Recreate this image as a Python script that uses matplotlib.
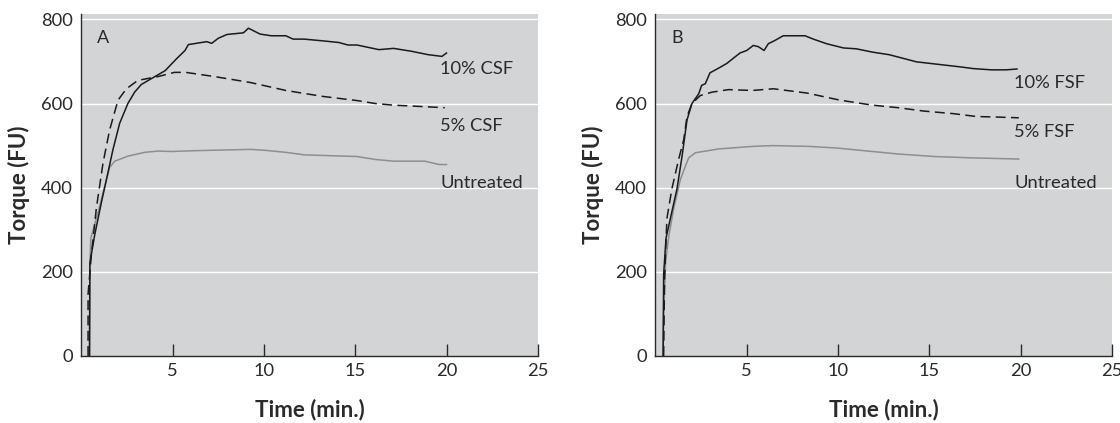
import matplotlib
matplotlib.use("Agg")
import matplotlib.pyplot as plt

plt.rcParams['font.family'] = ['Lato', 'DejaVu Sans']

# Panel A: corn starch fibre
a_10_x = [0.45, 0.47, 0.73, 1.1, 1.46, 1.73, 2.1, 2.55, 2.92, 3.28, 3.83, 4.59, 5.23, 5.68, 5.86,
          6.87, 7.14, 7.5, 7.97, 8.88, 9.15, 9.79, 10.4, 11.2, 11.6, 12.2, 13.2, 14.1, 14.6, 15.1,
          16.3, 17.1, 18.1, 19.0, 19.75, 20.0]
a_10_y = [0, 221, 287, 365, 436, 490, 553, 600, 627, 645, 659, 678, 707, 726, 740,
          747, 743, 755, 764, 768, 779, 765, 761, 761, 753, 753, 749, 745, 739, 739,
          728, 731, 724, 716, 712, 720]

a_5_x = [0.37, 0.37, 0.55, 0.82, 1.19, 1.55, 2.01, 2.47, 3.1, 4.2, 5.1, 5.72, 7.29, 9.25,
         11.2, 13.2, 15.1, 16.1, 17.1, 18.1, 19.9]
a_5_y = [0, 147, 240, 350, 459, 537, 608, 635, 655, 664, 674, 674, 664, 650,
         631, 617, 607, 600, 596, 594, 590]

a_u_x = [0.45, 0.47, 0.52, 0.92, 1.55, 1.83, 2.56, 3.47, 4.2, 4.94, 6.3, 9.25, 10.0, 11.2,
         12.2, 15.1, 16.1, 17.1, 18.8, 19.6, 20.0]
a_u_y = [0, 215, 280, 342, 448, 463, 475, 484, 487, 486, 488, 491, 489, 484,
         478, 474, 467, 463, 463, 455, 455]

# Panel B: fibre from the second source
b_10_x = [0.42, 0.45, 0.58, 0.82, 1.18, 1.46, 1.73, 2.0, 2.37, 2.53, 2.73, 2.99, 3.46, 3.9,
          4.63, 5.0, 5.36, 5.64, 5.95, 6.18, 6.55, 7.0, 8.19, 8.65, 9.38, 10.3, 11.0, 11.9,
          12.8, 14.3, 15.5, 16.7, 17.4, 18.4, 19.2, 19.8]
b_10_y = [0, 194, 280, 327, 397, 475, 561, 600, 623, 643, 647, 673, 684, 695,
          720, 726, 738, 735, 726, 742, 750, 761, 761, 753, 742, 732, 730, 722,
          716, 699, 693, 687, 683, 680, 680, 682]

b_5_x = [0.45, 0.5, 0.63, 0.9, 1.27, 1.55, 1.73, 2.0, 2.46, 3.1, 4.0, 5.3, 6.46, 8.28,
         10.1, 11.9, 13.3, 14.7, 16.3, 17.6, 18.6, 19.9]
b_5_y = [0, 186, 327, 397, 467, 514, 569, 600, 619, 627, 633, 631, 635, 625,
         608, 596, 590, 582, 576, 569, 568, 566]

b_u_x = [0.42, 0.45, 0.56, 0.74, 1.0, 1.37, 1.82, 2.19, 3.46, 5.3, 6.4, 8.46, 10.0, 11.4,
         13.3, 15.3, 17.2, 19.9]
b_u_y = [0, 100, 225, 287, 350, 420, 471, 483, 492, 498, 500, 498, 494, 488,
         480, 474, 471, 468]

panels = [
    ('A', 0.0726, (a_10_x, a_10_y), (a_5_x, a_5_y), (a_u_x, a_u_y), ['10% CSF', '5% CSF', 'Untreated'],
     [682, 547, 411]),
    ('B', 0.5852, (b_10_x, b_10_y), (b_5_x, b_5_y), (b_u_x, b_u_y), ['10% FSF', '5% FSF', 'Untreated'],
     [648, 533, 412]),
]

x_ticks = [5, 10, 15, 20, 25]
y_ticks = [0, 200, 400, 600, 800]

ink = '#2a2a2a'
fig = plt.figure(figsize=(11.2, 4.23), dpi=100)

for letter, left, s10, s5, su, names, name_y in panels:
    ax = fig.add_axes([left, 0.1584, 0.4076, 0.8078])
    ax.set_facecolor('#d3d4d6')
    ax.set_xlim(0, 25)
    ax.set_ylim(0, 812)

    for g in y_ticks[1:]:
        ax.axhline(g, color='white', lw=1.0, zorder=1)

    ax.plot(su[0], su[1], color='#8e8e8e', lw=1.1, zorder=2)
    ax.plot(s5[0], s5[1], color='#1a1a1a', lw=1.1, dashes=(6.5, 3.5), zorder=3)
    ax.plot(s10[0], s10[1], color='#1a1a1a', lw=1.1, zorder=4)

    for name, ny in zip(names, name_y):
        ax.text(19.65, ny, name, fontsize=13.2, color=ink, va='center', ha='left')
    ax.text(1.2, 755, letter, fontsize=13, color=ink, va='center', ha='center')

    for side in ['top', 'right']:
        ax.spines[side].set_visible(False)
    for side in ['left', 'bottom']:
        ax.spines[side].set_color(ink)
        ax.spines[side].set_linewidth(1.0)

    ax.set_xticks(x_ticks)
    ax.set_yticks(y_ticks)
    ax.tick_params(axis='x', direction='in', length=9, width=1, color=ink,
                   labelsize=13.2, labelcolor=ink, pad=5)
    ax.tick_params(axis='y', length=0, labelsize=13.2, labelcolor=ink, pad=6)

    ax.set_xlabel('Time (min.)', fontsize=16, fontweight='bold', color=ink, va='center')
    ax.xaxis.set_label_coords(0.5, -0.158)
    ax.set_ylabel('Torque (FU)', fontsize=16, fontweight='bold', color=ink, va='center')
    ax.yaxis.set_label_coords(-0.137, 0.5)

fig.savefig('out.png', dpi=100)
